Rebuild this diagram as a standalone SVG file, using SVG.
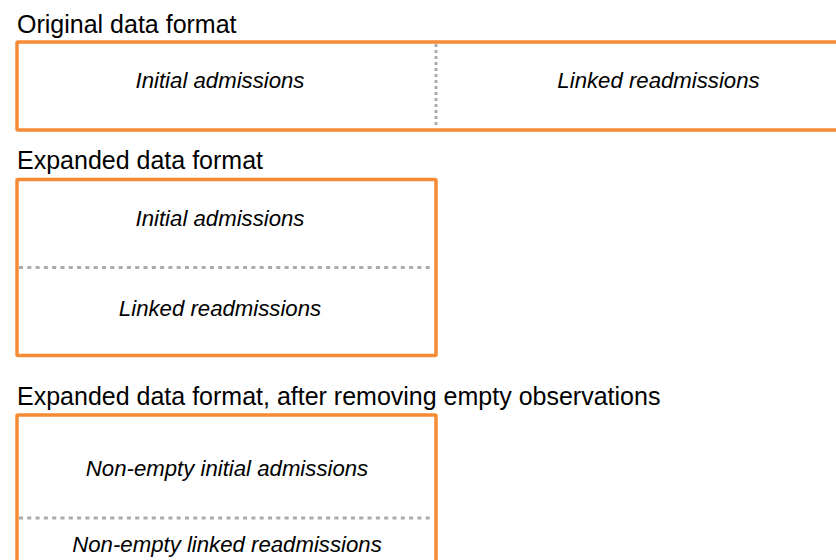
<svg xmlns="http://www.w3.org/2000/svg" width="836" height="560" viewBox="0 0 836 560">
  <style>
    .title { font-family: "Liberation Sans", Arial, sans-serif; font-size: 25px; fill: #000; }
    .label { font-family: "Liberation Sans", Arial, sans-serif; font-size: 22.2px; font-style: italic; fill: #000; text-anchor: middle; }
    .box { fill: #fff; stroke: #F68B35; stroke-width: 3.5; }
    .hdiv { stroke: #ABABAB; stroke-width: 3; stroke-dasharray: 4 4.3; fill: none; }
    .vdiv { stroke: #ABABAB; stroke-width: 3; stroke-dasharray: 3 3; fill: none; }
  </style>
  <rect width="836" height="560" fill="#fff"/>

  <g id="original">
    <text class="title" x="17" y="32.5">Original data format</text>
    <rect class="box" x="17" y="42" width="900" height="88" rx="1"/>
    <line class="vdiv" x1="436" y1="44" x2="436" y2="128"/>
    <text class="label" x="220" y="88.3">Initial admissions</text>
    <text class="label" x="658.5" y="88.3">Linked readmissions</text>
  </g>

  <g id="expanded">
    <text class="title" x="17" y="169">Expanded data format</text>
    <rect class="box" x="17" y="179.5" width="419" height="176" rx="1"/>
    <line class="hdiv" x1="19" y1="267.5" x2="434" y2="267.5"/>
    <text class="label" x="220" y="226">Initial admissions</text>
    <text class="label" x="220" y="316">Linked readmissions</text>
  </g>

  <g id="expanded-nonempty">
    <text class="title" x="17" y="405">Expanded data format, after removing empty observations</text>
    <rect class="box" x="17" y="415" width="419" height="220" rx="1"/>
    <line class="hdiv" x1="19" y1="518" x2="434" y2="518"/>
    <text class="label" x="227" y="475.5">Non-empty initial admissions</text>
    <text class="label" x="227" y="551.7">Non-empty linked readmissions</text>
  </g>

  <g id="connectors"></g>
</svg>
